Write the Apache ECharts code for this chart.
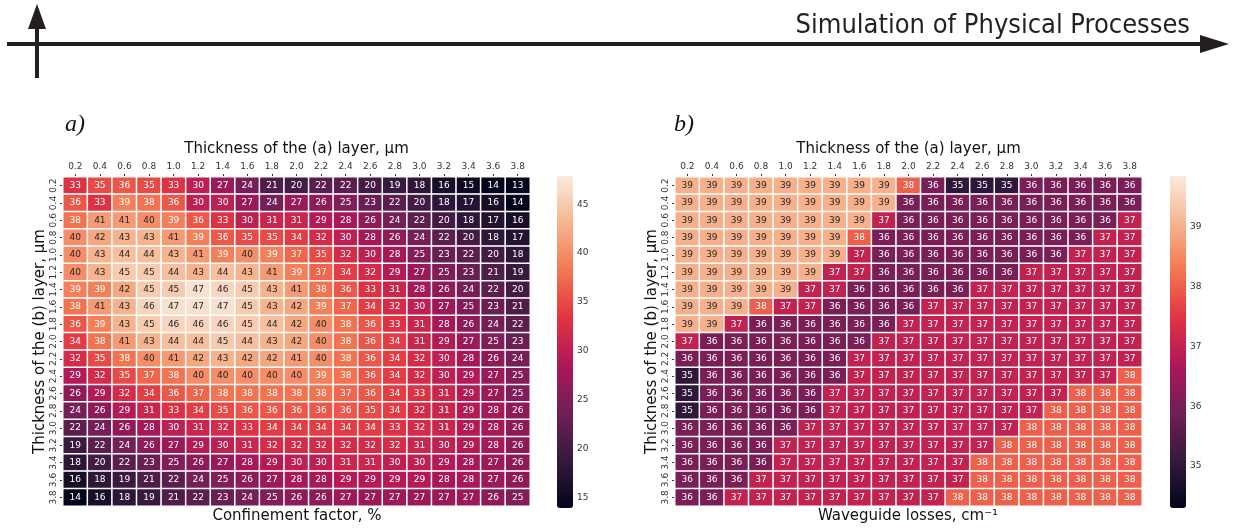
<!DOCTYPE html>
<html>
<head>
<meta charset="utf-8">
<script src="https://cdn.jsdelivr.net/npm/echarts@6/dist/echarts.min.js"></script>
<style>
html,body{margin:0;padding:0;background:#fff;}
#chart{width:1235px;height:531px;}
</style>
</head>
<body>
<div id="chart"></div>
<script>
// ---- data ----
const xLabels = ['0.2','0.4','0.6','0.8','1.0','1.2','1.4','1.6','1.8','2.0','2.2','2.4','2.6','2.8','3.0','3.2','3.4','3.6','3.8'];
const yLabels = ['0.2','0.4','0.6','0.8','1.0','1.2','1.4','1.6','1.8','2.0','2.2','2.4','2.6','2.8','3.0','3.2','3.4','3.6','3.8'];

const confinementFactor = [
  [33,35,36,35,33,30,27,24,21,20,22,22,20,19,18,16,15,14,13],
  [36,33,39,38,36,30,30,27,24,27,26,25,23,22,20,18,17,16,14],
  [38,41,41,40,39,36,33,30,31,31,29,28,26,24,22,20,18,17,16],
  [40,42,43,43,41,39,36,35,35,34,32,30,28,26,24,22,20,18,17],
  [40,43,44,44,43,41,39,40,39,37,35,32,30,28,25,23,22,20,18],
  [40,43,45,45,44,43,44,43,41,39,37,34,32,29,27,25,23,21,19],
  [39,39,42,45,45,47,46,45,43,41,38,36,33,31,28,26,24,22,20],
  [38,41,43,46,47,47,47,45,43,42,39,37,34,32,30,27,25,23,21],
  [36,39,43,45,46,46,46,45,44,42,40,38,36,33,31,28,26,24,22],
  [34,38,41,43,44,44,45,44,43,42,40,38,36,34,31,29,27,25,23],
  [32,35,38,40,41,42,43,42,42,41,40,38,36,34,32,30,28,26,24],
  [29,32,35,37,38,40,40,40,40,40,39,38,36,34,32,30,29,27,25],
  [26,29,32,34,36,37,38,38,38,38,38,37,36,34,33,31,29,27,25],
  [24,26,29,31,33,34,35,36,36,36,36,36,35,34,32,31,29,28,26],
  [22,24,26,28,30,31,32,33,34,34,34,34,34,33,32,31,29,28,26],
  [19,22,24,26,27,29,30,31,32,32,32,32,32,32,31,30,29,28,26],
  [18,20,22,23,25,26,27,28,29,30,30,31,31,30,30,29,28,27,26],
  [16,18,19,21,22,24,25,26,27,28,28,29,29,29,29,28,28,27,26],
  [14,16,18,19,21,22,23,24,25,26,26,27,27,27,27,27,27,26,25]
];

const waveguideLosses = [
  [39,39,39,39,39,39,39,39,39,38,36,35,35,35,36,36,36,36,36],
  [39,39,39,39,39,39,39,39,39,36,36,36,36,36,36,36,36,36,36],
  [39,39,39,39,39,39,39,39,37,36,36,36,36,36,36,36,36,36,37],
  [39,39,39,39,39,39,39,38,36,36,36,36,36,36,36,36,36,37,37],
  [39,39,39,39,39,39,39,37,36,36,36,36,36,36,36,36,37,37,37],
  [39,39,39,39,39,39,37,37,36,36,36,36,36,36,37,37,37,37,37],
  [39,39,39,39,39,37,37,36,36,36,36,36,37,37,37,37,37,37,37],
  [39,39,39,38,37,37,36,36,36,36,37,37,37,37,37,37,37,37,37],
  [39,39,37,36,36,36,36,36,36,37,37,37,37,37,37,37,37,37,37],
  [37,36,36,36,36,36,36,36,37,37,37,37,37,37,37,37,37,37,37],
  [36,36,36,36,36,36,36,37,37,37,37,37,37,37,37,37,37,37,37],
  [35,36,36,36,36,36,36,37,37,37,37,37,37,37,37,37,37,37,38],
  [35,36,36,36,36,36,37,37,37,37,37,37,37,37,37,37,38,38,38],
  [35,36,36,36,36,36,37,37,37,37,37,37,37,37,37,38,38,38,38],
  [36,36,36,36,36,37,37,37,37,37,37,37,37,37,38,38,38,38,38],
  [36,36,36,36,37,37,37,37,37,37,37,37,37,38,38,38,38,38,38],
  [36,36,36,36,37,37,37,37,37,37,37,37,38,38,38,38,38,38,38],
  [36,36,36,37,37,37,37,37,37,37,37,37,38,38,38,38,38,38,38],
  [36,36,37,37,37,37,37,37,37,37,37,38,38,38,38,38,38,38,38]
];

const colorbarTicksA = [15,20,25,30,35,40,45];
const colorbarTicksB = [35,36,37,38,39];
const rangeA = [13.9, 47.9];
const rangeB = [34.3, 39.85];

// seaborn "rocket"-like colormap
const rocket = ['#03051A','#35193E','#701F57','#AD1759','#E13342','#F37651','#F6B48F','#FAEBDD'];

const FONT = "'DejaVu Sans', sans-serif";

function buildData(matrix, darkFrom) {
  const out = [];
  matrix.forEach((row, i) => {
    row.forEach((v, j) => {
      out.push({value: [j, i, v], label: {color: v >= darkFrom ? '#262626' : '#ffffff'}});
    });
  });
  return out;
}

const chart = echarts.init(document.getElementById('chart'));

function heatXAxis(gi) {
  return {
    gridIndex: gi, type: 'category', data: xLabels, position: 'top',
    axisLine: {show: false},
    axisTick: {show: true, alignWithLabel: true, interval: 0, length: 3, lineStyle: {color: '#333'}},
    axisLabel: {fontSize: 9, color: '#333', margin: 6, interval: 0, fontFamily: FONT},
    splitArea: {show: false},
    name: 'Thickness of the (a) layer, µm', nameLocation: 'middle', nameGap: 16,
    nameTextStyle: {fontSize: 15, color: '#111', fontFamily: FONT}
  };
}
function heatYAxis(gi) {
  return {
    gridIndex: gi, type: 'category', data: yLabels, inverse: true,
    axisLine: {show: false},
    axisTick: {show: true, alignWithLabel: true, interval: 0, length: 3, lineStyle: {color: '#333'}},
    axisLabel: {fontSize: 9, color: '#333', rotate: 90, margin: 5, interval: 0, fontFamily: FONT},
    splitArea: {show: false},
    name: 'Thickness of the (b) layer, µm', nameLocation: 'middle', nameGap: 14, nameRotate: 90,
    nameTextStyle: {fontSize: 15, color: '#111', fontFamily: FONT}
  };
}
function cbYAxis(gi, range, ticks) {
  return {
    gridIndex: gi, type: 'value', min: range[0], max: range[1], position: 'right',
    axisLine: {show: false},
    axisTick: {show: true, length: 3, lineStyle: {color: '#333'}, customValues: ticks},
    axisLabel: {fontSize: 9, color: '#333', margin: 4, customValues: ticks, fontFamily: FONT},
    splitLine: {show: false}
  };
}

const option = {
  animation: false,
  textStyle: {fontFamily: FONT},
  grid: [
    {left: 63, top: 177, width: 467, height: 329},
    {left: 675, top: 177, width: 467, height: 329},
    {left: 557, top: 176, width: 16, height: 332},
    {left: 1170, top: 176, width: 16, height: 332}
  ],
  xAxis: [
    heatXAxis(0), heatXAxis(1),
    {gridIndex: 2, type: 'value', show: false},
    {gridIndex: 3, type: 'value', show: false}
  ],
  yAxis: [
    heatYAxis(0), heatYAxis(1),
    cbYAxis(2, rangeA, colorbarTicksA),
    cbYAxis(3, rangeB, colorbarTicksB)
  ],
  visualMap: [
    {type: 'continuous', seriesIndex: 0, min: rangeA[0], max: rangeA[1], calculable: false,
     orient: 'vertical', left: 557, top: 176, itemWidth: 16, itemHeight: 332, padding: 0,
     inRange: {color: rocket}, hoverLink: false},
    {type: 'continuous', seriesIndex: 1, min: rangeB[0], max: rangeB[1], calculable: false,
     orient: 'vertical', left: 1170, top: 176, itemWidth: 16, itemHeight: 332, padding: 0,
     inRange: {color: rocket}, hoverLink: false}
  ],
  series: [
    {type: 'heatmap', xAxisIndex: 0, yAxisIndex: 0, data: buildData(confinementFactor, 40),
     label: {show: true, fontSize: 9, fontFamily: FONT, formatter: p => p.value[2]},
     itemStyle: {borderColor: '#ffffff', borderWidth: 1.5}, emphasis: {disabled: true}},
    {type: 'heatmap', xAxisIndex: 1, yAxisIndex: 1, data: buildData(waveguideLosses, 39),
     label: {show: true, fontSize: 9, fontFamily: FONT, formatter: p => p.value[2]},
     itemStyle: {borderColor: '#ffffff', borderWidth: 1.5}, emphasis: {disabled: true}}
  ],
  graphic: [
    {type: 'rect', shape: {x: 7, y: 42, width: 1196, height: 4}, style: {fill: '#231f20'}},
    {type: 'polygon', shape: {points: [[1200, 35], [1229, 44], [1200, 53]]}, style: {fill: '#231f20'}},
    {type: 'rect', shape: {x: 35, y: 24, width: 4, height: 54}, style: {fill: '#231f20'}},
    {type: 'polygon', shape: {points: [[28, 29], [37, 4], [46, 29]]}, style: {fill: '#231f20'}},
    {type: 'text', x: 1190, y: 26, style: {text: 'Simulation of Physical Processes', fill: '#231f20',
      font: "27px 'DejaVu Sans Condensed', 'Liberation Sans Narrow', sans-serif", textAlign: 'right', textVerticalAlign: 'middle'}},
    {type: 'text', x: 65, y: 125, style: {text: 'a)', fill: '#111',
      font: "italic 24px 'Liberation Serif', serif", textAlign: 'left', textVerticalAlign: 'middle'}},
    {type: 'text', x: 674, y: 125, style: {text: 'b)', fill: '#111',
      font: "italic 24px 'Liberation Serif', serif", textAlign: 'left', textVerticalAlign: 'middle'}},
    {type: 'text', x: 297, y: 516, style: {text: 'Confinement factor, %', fill: '#111',
      font: "15px 'DejaVu Sans', sans-serif", textAlign: 'center', textVerticalAlign: 'middle'}},
    {type: 'text', x: 908, y: 516, style: {text: 'Waveguide losses, cm⁻¹', fill: '#111',
      font: "15px 'DejaVu Sans', sans-serif", textAlign: 'center', textVerticalAlign: 'middle'}}
  ]
};
chart.setOption(option);
</script>
</body>
</html>
